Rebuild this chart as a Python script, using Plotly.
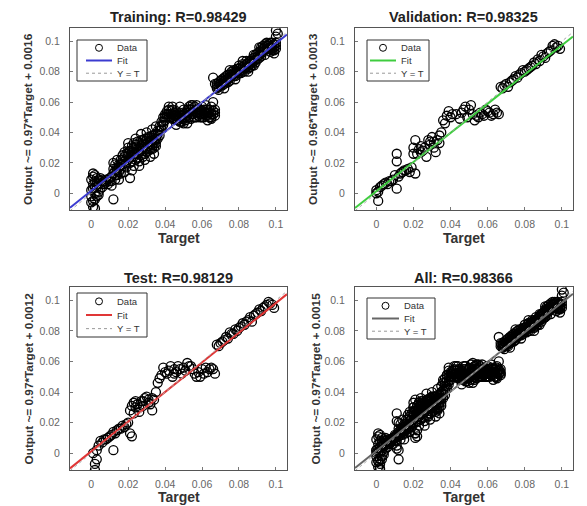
import plotly.graph_objects as go

FONT = "Liberation Sans, Arial, sans-serif"

# ---------------- data ----------------
tick_vals = [0, 0.02, 0.04, 0.06, 0.08, 0.1]
tick_text = ["0", "0.02", "0.04", "0.06", "0.08", "0.1"]
x_limits = [-0.0115, 0.106]
y_limits = [-0.011, 0.1087]

train_target = [
    0.000, 0.000, 0.001, 0.001, 0.001, 0.002, 0.002, 0.002, 0.003, 0.003, 0.003, 0.004, 0.004, 0.005, 0.005, 0.006, 0.007, 0.008, 0.009, 0.010,
    0.011, 0.011, 0.012, 0.012, 0.012, 0.013, 0.013, 0.014, 0.014, 0.015, 0.015, 0.016, 0.016,
    0.017, 0.017, 0.018, 0.018, 0.019, 0.019, 0.020, 0.020, 0.021, 0.021, 0.021, 0.022, 0.022, 0.023, 0.023, 0.023, 0.024, 0.024, 0.025, 0.025,
    0.026, 0.026, 0.027, 0.027, 0.028, 0.028, 0.029, 0.029, 0.030, 0.030, 0.031, 0.031, 0.032, 0.032, 0.033, 0.033, 0.034, 0.034, 0.035, 0.035,
    0.036, 0.036, 0.037, 0.037, 0.038, 0.038, 0.039, 0.039, 0.040, 0.040, 0.041, 0.041, 0.042, 0.042,
    0.043, 0.043, 0.044, 0.045, 0.045, 0.046, 0.047, 0.047, 0.048, 0.049, 0.049, 0.050, 0.051, 0.051, 0.052, 0.052, 0.053, 0.053, 0.054, 0.054, 0.055, 0.055,
    0.056, 0.056, 0.057, 0.058, 0.058, 0.059, 0.060, 0.060, 0.061, 0.062, 0.062, 0.063, 0.064, 0.064, 0.065, 0.065, 0.066, 0.066, 0.067, 0.067, 0.066, 0.067,
    0.068, 0.068, 0.069, 0.070, 0.070, 0.071, 0.072, 0.072, 0.073, 0.074, 0.074, 0.075, 0.076, 0.076, 0.077, 0.078, 0.078, 0.079, 0.080, 0.080,
    0.081, 0.082, 0.082, 0.083, 0.084, 0.084, 0.085, 0.086, 0.086, 0.087, 0.088, 0.088, 0.089, 0.089, 0.090, 0.091, 0.091, 0.092, 0.092, 0.093, 0.093, 0.094, 0.094, 0.095,
    0.096, 0.096, 0.097, 0.097, 0.098, 0.098, 0.099, 0.099, 0.100, 0.100, 0.100, 0.101, 0.099,
    0.000, 0.000, 0.001, 0.001, 0.002, 0.002, 0.003, 0.004, 0.004, 0.005, 0.006, 0.006, 0.007, 0.008, 0.009, 0.010,
    0.011, 0.012, 0.013, 0.013, 0.014, 0.015, 0.016, 0.016,
    0.017, 0.018, 0.018, 0.019, 0.019, 0.020, 0.020, 0.021, 0.022, 0.022, 0.023, 0.023, 0.024, 0.024, 0.025, 0.025, 0.026, 0.026,
    0.027, 0.027, 0.028, 0.028, 0.029, 0.029, 0.030, 0.030, 0.031, 0.031, 0.032, 0.032, 0.033, 0.033, 0.034, 0.034, 0.035, 0.035,
    0.036, 0.037, 0.038, 0.039, 0.040, 0.041, 0.042, 0.042,
    0.043, 0.044, 0.044, 0.045, 0.046, 0.046, 0.047, 0.048, 0.048, 0.049, 0.050, 0.050, 0.051, 0.052, 0.053, 0.053, 0.054, 0.055,
    0.056, 0.057, 0.057, 0.058, 0.059, 0.059, 0.060, 0.061, 0.061, 0.062, 0.063, 0.063, 0.064, 0.065, 0.066, 0.067,
    0.068, 0.069, 0.069, 0.070, 0.071, 0.071, 0.072, 0.073, 0.073, 0.074, 0.075, 0.075, 0.076, 0.077, 0.077, 0.078, 0.079, 0.079, 0.080, 0.080,
    0.081, 0.081, 0.082, 0.083, 0.083, 0.084, 0.085, 0.085, 0.086, 0.087, 0.087, 0.088, 0.089, 0.090, 0.090, 0.091, 0.092, 0.092, 0.093, 0.094, 0.095, 0.095,
    0.096, 0.097, 0.097, 0.098, 0.098, 0.099, 0.100, 0.100,
    0.018, 0.020, 0.022, 0.024, 0.026, 0.027, 0.029, 0.030, 0.032, 0.033, 0.034, 0.035,
    0.044, 0.046, 0.048, 0.050, 0.052, 0.054, 0.057, 0.060, 0.063, 0.065, 0.062,
    0.072, 0.075, 0.078, 0.082, 0.085, 0.088, 0.091, 0.094,
    0.001, 0.002, 0.014, 0.015,
]
train_output = [
    -0.006, 0.002, -0.009, 0.006, 0.011, -0.004, 0.000, 0.008, 0.004, -0.002, 0.010, 0.006, 0.001, 0.008, 0.003, 0.007, 0.008, 0.007, 0.009, 0.008,
    0.011, 0.005, -0.004, 0.013, 0.020, 0.015, 0.009, 0.017, 0.012, 0.019, 0.014, 0.022, 0.016,
    0.019, 0.025, 0.021, 0.027, 0.017, 0.023, 0.025, 0.030, 0.010, 0.020, 0.028, 0.024, 0.031, 0.018, 0.027, 0.033, 0.022, 0.029, 0.026, 0.034,
    0.021, 0.030, 0.028, 0.035, 0.024, 0.032, 0.029, 0.036, 0.027, 0.033, 0.031, 0.037, 0.029, 0.034, 0.032, 0.038, 0.030, 0.035, 0.033, 0.039,
    0.036, 0.041, 0.038, 0.044, 0.042, 0.047, 0.045, 0.050, 0.048, 0.052, 0.050, 0.054, 0.052, 0.055,
    0.050, 0.054, 0.052, 0.049, 0.053, 0.051, 0.048, 0.052, 0.050, 0.047, 0.051, 0.049, 0.053, 0.048, 0.055, 0.051, 0.057, 0.053, 0.058, 0.055, 0.056, 0.052,
    0.054, 0.050, 0.053, 0.051, 0.055, 0.052, 0.050, 0.054, 0.052, 0.055, 0.051, 0.053, 0.050, 0.055, 0.052, 0.057, 0.054, 0.060, 0.051, 0.055, 0.076, 0.072,
    0.069, 0.072, 0.070, 0.072, 0.074, 0.071, 0.074, 0.076, 0.073, 0.075, 0.078, 0.076, 0.078, 0.080, 0.077, 0.079, 0.081, 0.080, 0.082, 0.079,
    0.081, 0.083, 0.080, 0.082, 0.085, 0.083, 0.084, 0.087, 0.085, 0.086, 0.089, 0.087, 0.091, 0.088, 0.090, 0.093, 0.091, 0.094, 0.092, 0.095, 0.097, 0.096, 0.094, 0.097,
    0.095, 0.098, 0.096, 0.093, 0.095, 0.097, 0.094, 0.096, 0.097, 0.103, 0.107, 0.105, 0.092,
    0.009, -0.002, 0.003, -0.005, 0.004, 0.012, 0.007, 0.009, -0.001, 0.010, 0.004, 0.009, 0.006, 0.009, 0.006, 0.010,
    0.008, 0.016, 0.012, 0.019, 0.015, 0.017, 0.019, 0.013,
    0.022, 0.024, 0.018, 0.026, 0.020, 0.022, 0.027, 0.024, 0.021, 0.027, 0.030, 0.024, 0.026, 0.032, 0.023, 0.029, 0.027, 0.033,
    0.025, 0.031, 0.029, 0.035, 0.026, 0.032, 0.030, 0.036, 0.028, 0.034, 0.032, 0.037, 0.029, 0.035, 0.033, 0.038, 0.036, 0.031,
    0.039, 0.041, 0.044, 0.047, 0.050, 0.052, 0.050, 0.057,
    0.052, 0.055, 0.049, 0.051, 0.054, 0.049, 0.050, 0.053, 0.047, 0.049, 0.052, 0.046, 0.050, 0.053, 0.050, 0.055, 0.052, 0.058,
    0.057, 0.050, 0.055, 0.053, 0.055, 0.050, 0.052, 0.055, 0.050, 0.053, 0.051, 0.055, 0.053, 0.050, 0.052, 0.053,
    0.070, 0.073, 0.068, 0.071, 0.073, 0.075, 0.072, 0.075, 0.077, 0.073, 0.078, 0.074, 0.077, 0.079, 0.081, 0.077, 0.082, 0.078, 0.080, 0.084,
    0.083, 0.079, 0.085, 0.084, 0.080, 0.087, 0.082, 0.086, 0.083, 0.088, 0.084, 0.091, 0.086, 0.092, 0.088, 0.089, 0.090, 0.096, 0.093, 0.098, 0.095, 0.099,
    0.097, 0.099, 0.095, 0.094, 0.099, 0.098, 0.095, 0.099,
    0.014, 0.033, 0.015, 0.036, 0.018, 0.039, 0.022, 0.040, 0.024, 0.042, 0.026, 0.044,
    0.057, 0.045, 0.057, 0.055, 0.046, 0.049, 0.058, 0.057, 0.048, 0.049, 0.058,
    0.069, 0.081, 0.075, 0.087, 0.080, 0.084, 0.096, 0.091,
    0.013, -0.010, 0.022, 0.009,
]

val_target = [
    0.000, 0.000, 0.001, 0.001, 0.002, 0.003, 0.004, 0.005, 0.006, 0.007,
    0.008, 0.009, 0.010, 0.011, 0.011, 0.011, 0.012, 0.013, 0.014, 0.015,
    0.016, 0.017, 0.018, 0.019, 0.020, 0.020, 0.021, 0.021, 0.022, 0.023,
    0.024, 0.025, 0.026, 0.027, 0.028, 0.029, 0.030, 0.031, 0.032, 0.033,
    0.034, 0.035, 0.036, 0.037, 0.038, 0.039, 0.040, 0.041, 0.043, 0.045,
    0.046, 0.048, 0.050, 0.051, 0.052, 0.054, 0.055, 0.057, 0.058, 0.059,
    0.061, 0.062, 0.064, 0.065, 0.066, 0.067, 0.068, 0.069, 0.070, 0.072,
    0.073, 0.075, 0.076, 0.078, 0.079, 0.081, 0.083, 0.084, 0.086, 0.088,
    0.090, 0.091, 0.093, 0.094, 0.096, 0.097, 0.098, 0.099,
    0.071, 0.074, 0.077, 0.080, 0.082, 0.085, 0.087, 0.089, 0.092, 0.095,
    0.047, 0.049, 0.053, 0.056, 0.060, 0.063, 0.024, 0.029, 0.031, 0.034,
]
val_output = [
    0.000, 0.002, -0.005, 0.001, 0.004, 0.005, 0.006, 0.007, 0.006, 0.008,
    0.008, 0.009, 0.012, 0.026, 0.021, 0.003, 0.011, 0.013, 0.014, 0.015,
    0.015, 0.016, 0.014, 0.017, 0.030, 0.026, 0.013, 0.035, 0.026, 0.029,
    0.027, 0.028, 0.030, 0.024, 0.035, 0.032, 0.037, 0.034, 0.027, 0.035,
    0.038, 0.040, 0.048, 0.046, 0.051, 0.054, 0.050, 0.052, 0.052, 0.049,
    0.053, 0.057, 0.055, 0.058, 0.052, 0.051, 0.050, 0.052, 0.051, 0.055,
    0.053, 0.051, 0.055, 0.053, 0.052, 0.070, 0.069, 0.071, 0.072, 0.073,
    0.074, 0.077, 0.076, 0.079, 0.081, 0.081, 0.083, 0.084, 0.085, 0.087,
    0.090, 0.089, 0.093, 0.094, 0.098, 0.096, 0.097, 0.095,
    0.070, 0.075, 0.078, 0.080, 0.082, 0.086, 0.088, 0.091, 0.092, 0.097,
    0.055, 0.050, 0.048, 0.053, 0.054, 0.052, 0.031, 0.034, 0.030, 0.033,
]

test_target = [
    0.001, 0.002, 0.002, 0.003, 0.003, 0.004, 0.005, 0.006, 0.007, 0.008,
    0.009, 0.010, 0.011, 0.012, 0.012, 0.013, 0.014, 0.015, 0.016, 0.017,
    0.018, 0.019, 0.020, 0.021, 0.021, 0.022, 0.022, 0.023, 0.023, 0.024,
    0.025, 0.026, 0.027, 0.028, 0.029, 0.030, 0.031, 0.032, 0.033, 0.034,
    0.035, 0.036, 0.037, 0.038, 0.039, 0.040, 0.041, 0.042, 0.043, 0.044,
    0.045, 0.046, 0.048, 0.049, 0.050, 0.052, 0.053, 0.055, 0.056, 0.058,
    0.059, 0.060, 0.062, 0.063, 0.064, 0.066, 0.067, 0.068, 0.069, 0.070,
    0.072, 0.073, 0.075, 0.077, 0.078, 0.080, 0.082, 0.083, 0.085, 0.086,
    0.088, 0.090, 0.091, 0.093, 0.095, 0.096, 0.098, 0.099,
    0.071, 0.074, 0.076, 0.079, 0.081, 0.084, 0.087, 0.089, 0.092, 0.094, 0.097,
    0.024, 0.026, 0.028, 0.031, 0.033, 0.045, 0.047, 0.051, 0.054, 0.057, 0.061, 0.065,
]
test_output = [
    0.000, -0.007, -0.011, -0.004, 0.002, 0.005, 0.008, 0.007, 0.009, 0.009,
    0.010, 0.011, 0.012, 0.002, 0.014, 0.013, 0.015, 0.016, 0.016, 0.018,
    0.017, 0.019, 0.020, 0.013, 0.028, 0.011, 0.031, 0.033, 0.026, 0.030,
    0.032, 0.030, 0.034, 0.034, 0.036, 0.037, 0.033, 0.032, 0.036, 0.035,
    0.040, 0.046, 0.049, 0.051, 0.056, 0.053, 0.052, 0.054, 0.057, 0.050,
    0.055, 0.053, 0.055, 0.052, 0.056, 0.059, 0.057, 0.055, 0.052, 0.053,
    0.050, 0.055, 0.056, 0.053, 0.055, 0.055, 0.052, 0.071, 0.070, 0.072,
    0.074, 0.076, 0.079, 0.078, 0.081, 0.082, 0.085, 0.084, 0.087, 0.089,
    0.090, 0.092, 0.094, 0.095, 0.097, 0.099, 0.097, 0.095,
    0.073, 0.075, 0.078, 0.080, 0.083, 0.086, 0.086, 0.091, 0.093, 0.096, 0.098,
    0.034, 0.027, 0.031, 0.035, 0.028, 0.052, 0.057, 0.054, 0.057, 0.050, 0.052, 0.056,
]

# "All" is the union of the three subsets
all_target = train_target + val_target + test_target
all_output = train_output + val_output + test_output

panel_names = ["Training", "Validation", "Test", "All"]
r_values = ["0.98429", "0.98325", "0.98129", "0.98366"]
fit_slopes = [0.97, 0.96, 0.97, 0.97]
fit_intercepts = [0.0016, 0.0013, 0.0012, 0.0015]
fit_colors = ["#3b3bd0", "#3fcc3f", "#e03636", "#666666"]
legend_labels = ["Data", "Fit", "Y = T"]

# ---------------- layout geometry (pixels -> paper fractions) ----------------
W, H = 587, 506
col_px = [(70, 287), (355, 573)]
row_px = [(28, 210), (287, 470)]
legend_box_px = [(77, 40, 70, 41), (367, 40, 62, 41), (77, 293, 70, 44), (367, 298, 68, 41)]
legend_sym_px = [(9, 35, 38), (3, 29, 32), (9, 35, 38), (5, 32, 35)]  # line start, line end, text start
ylabel_px = [28, 313, 28, 315]
title_px = [17, 17, 278, 278]
xlabel_px = [238, 238, 497, 497]

targets = [train_target, val_target, test_target, all_target]
outputs = [train_output, val_output, test_output, all_output]


def px(x):
    return x / W


def py(y):
    return 1 - y / H


fig = go.Figure()
annotations = []
shapes = []
layout_axes = {}

for i in range(4):
    c, r = i % 2, i // 2
    sfx = "" if i == 0 else str(i + 1)
    xa, ya = "x" + sfx, "y" + sfx
    x0, x1 = col_px[c]
    y0, y1 = row_px[r]
    xdom = [px(x0), px(x1)]
    ydom = [py(y1), py(y0)]

    fig.add_trace(go.Scatter(
        x=targets[i], y=outputs[i], mode="markers", name="Data",
        marker=dict(symbol="circle-open", size=9, color="black", line=dict(width=1.3, color="black")),
        xaxis=xa, yaxis=ya, showlegend=False,
    ))
    a, b = fit_slopes[i], fit_intercepts[i]
    fig.add_trace(go.Scatter(
        x=x_limits, y=[a * v + b for v in x_limits], mode="lines", name="Fit",
        line=dict(color=fit_colors[i], width=2),
        xaxis=xa, yaxis=ya, showlegend=False,
    ))
    fig.add_trace(go.Scatter(
        x=x_limits, y=x_limits, mode="lines", name="Y = T",
        line=dict(color="#aaaaaa", width=1, dash="dot"),
        xaxis=xa, yaxis=ya, showlegend=False,
    ))

    common = dict(
        tickvals=tick_vals, ticktext=tick_text, showline=True, mirror=True,
        linecolor="#555555", linewidth=1, ticks="inside", ticklen=3, tickcolor="#777777",
        tickfont=dict(family=FONT, size=10.5, color="#666666"),
        showgrid=False, zeroline=False,
    )
    layout_axes["xaxis" + sfx] = dict(domain=xdom, range=x_limits, anchor=ya,
                                      ticklabelstandoff=4, **common)
    layout_axes["yaxis" + sfx] = dict(domain=ydom, range=y_limits, anchor=xa,
                                      ticklabelstandoff=7, **common)

    # legend box (drawn in paper coordinates, like MATLAB's in-axes legend)
    bx, by, bw, bh = legend_box_px[i]
    sl, sr, st = legend_sym_px[i]
    shapes.append(dict(type="rect", xref="paper", yref="paper",
                       x0=px(bx), x1=px(bx + bw), y0=py(by + bh), y1=py(by),
                       line=dict(color="#333333", width=1), fillcolor="white", layer="above"))
    rows = [by + bh * 0.19, by + bh * 0.5, by + bh * 0.81]
    sym_l, sym_r = bx + sl, bx + sr
    sym_c = (sym_l + sym_r) / 2
    shapes.append(dict(type="circle", xref="paper", yref="paper",
                       x0=px(sym_c - 3.5), x1=px(sym_c + 3.5),
                       y0=py(rows[0] + 3.5), y1=py(rows[0] - 3.5),
                       line=dict(color="black", width=1), layer="above"))
    shapes.append(dict(type="line", xref="paper", yref="paper",
                       x0=px(sym_l), x1=px(sym_r), y0=py(rows[1]), y1=py(rows[1]),
                       line=dict(color=fit_colors[i], width=2), layer="above"))
    shapes.append(dict(type="line", xref="paper", yref="paper",
                       x0=px(sym_l), x1=px(sym_r), y0=py(rows[2]), y1=py(rows[2]),
                       line=dict(color="#999999", width=1, dash="dot"), layer="above"))
    for lab, ry in zip(legend_labels, rows):
        annotations.append(dict(
            text=lab, x=px(bx + st), y=py(ry), xref="paper", yref="paper",
            xanchor="left", yanchor="middle", showarrow=False,
            font=dict(family=FONT, size=9.5, color="#333333"),
        ))

    xc = px((x0 + x1) / 2)
    annotations.append(dict(
        text="<b>%s: R=%s</b>" % (panel_names[i], r_values[i]),
        x=xc, y=py(title_px[i]), xref="paper", yref="paper",
        xanchor="center", yanchor="middle", showarrow=False,
        font=dict(family=FONT, size=14.5, color="#222222"),
    ))
    annotations.append(dict(
        text="<b>Target</b>",
        x=xc, y=py(xlabel_px[i]), xref="paper", yref="paper",
        xanchor="center", yanchor="middle", showarrow=False,
        font=dict(family=FONT, size=14, color="#333333"),
    ))
    annotations.append(dict(
        text="<b>Output ~= %.2f*Target + %.4f</b>" % (a, b),
        x=px(ylabel_px[i]), y=(ydom[0] + ydom[1]) / 2, xref="paper", yref="paper",
        xanchor="center", yanchor="middle", textangle=-90, showarrow=False,
        font=dict(family=FONT, size=11.8, color="#333333"),
    ))

fig.update_layout(
    width=W, height=H, margin=dict(l=0, r=0, t=0, b=0),
    paper_bgcolor="white", plot_bgcolor="white",
    annotations=annotations, shapes=shapes, showlegend=False,
    **layout_axes,
)

fig.write_html("out.html", config={"displayModeBar": False},
               post_script="document.body.style.margin='0px';")
